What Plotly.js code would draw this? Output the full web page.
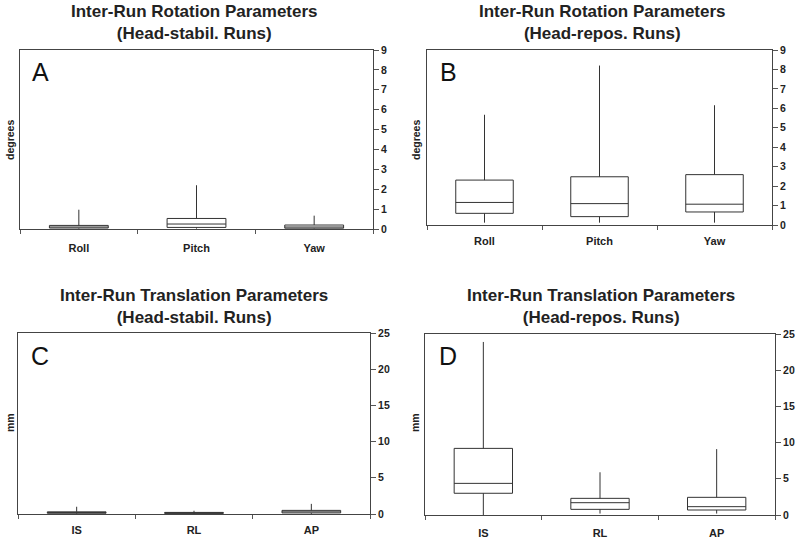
<!DOCTYPE html>
<html>
<head>
<meta charset="utf-8">
<script src="https://cdn.plot.ly/plotly-3.0.1.min.js"></script>
<style>
  html, body { margin: 0; padding: 0; background: #fff; }
  #chart { width: 800px; height: 539px; }
</style>
</head>
<body>
<div id="chart"></div>
<script>
// categories
const rotCats = ['Roll', 'Pitch', 'Yaw'];
const transCats = ['IS', 'RL', 'AP'];

// A: rotation, head-stabilised runs (degrees)
const aLow = [0.02, 0.02, 0.02];
const aQ1 = [0.05, 0.08, 0.04];
const aMed = [0.1, 0.25, 0.1];
const aQ3 = [0.18, 0.53, 0.2];
const aHigh = [0.97, 2.2, 0.67];

// B: rotation, head-repositioned runs (degrees)
const bLow = [0.12, 0.12, 0.12];
const bQ1 = [0.6, 0.43, 0.67];
const bMed = [1.16, 1.1, 1.07];
const bQ3 = [2.31, 2.48, 2.59];
const bHigh = [5.67, 8.2, 6.16];

// C: translation, head-stabilised runs (mm)
const cLow = [0.02, 0.02, 0.02];
const cQ1 = [0.1, 0.08, 0.15];
const cMed = [0.2, 0.15, 0.3];
const cQ3 = [0.3, 0.22, 0.5];
const cHigh = [1.0, 0.45, 1.4];

// D: translation, head-repositioned runs (mm)
const dLow = [0, 0.2, 0.2];
const dQ1 = [3.0, 0.78, 0.69];
const dMed = [4.37, 1.7, 1.15];
const dQ3 = [9.2, 2.3, 2.44];
const dHigh = [23.9, 5.9, 9.1];

const W = 800, H = 539;
const boldFont = 'Liberation Sans, Arial, sans-serif';

function makeBox(cats, low, q1, med, q3, high, xa, ya) {
  return {
    type: 'box',
    x: cats,
    lowerfence: low,
    q1: q1,
    median: med,
    q3: q3,
    upperfence: high,
    width: 0.5,
    whiskerwidth: 0,
    boxpoints: false,
    fillcolor: '#ffffff',
    line: { color: '#333333', width: 1 },
    xaxis: xa,
    yaxis: ya,
    hoverinfo: 'skip',
    showlegend: false
  };
}

const data = [
  makeBox(rotCats, aLow, aQ1, aMed, aQ3, aHigh, 'x', 'y'),
  makeBox(rotCats, bLow, bQ1, bMed, bQ3, bHigh, 'x2', 'y2'),
  makeBox(transCats, cLow, cQ1, cMed, cQ3, cHigh, 'x3', 'y3'),
  makeBox(transCats, dLow, dQ1, dMed, dQ3, dHigh, 'x4', 'y4')
];

// pixel boxes of each panel: [left, right, top, bottom, label gap]
const panels = [
  [20, 373, 50, 229, 9],
  [427, 772, 50, 225, 6],
  [18, 370, 333, 514, 6],
  [425, 775, 334, 515, 8]
];

function xAxis(p, anchor) {
  return {
    domain: [p[0] / W, p[1] / W],
    anchor: anchor,
    type: 'category',
    range: [-0.5, 2.5],
    tickson: 'boundaries',
    ticks: 'outside',
    ticklen: 4,
    tickcolor: '#555',
    ticklabelstandoff: p[4],
    showline: true,
    linecolor: '#444',
    linewidth: 1,
    mirror: true,
    showgrid: false,
    zeroline: false,
    tickfont: { family: boldFont, size: 11, color: '#222', weight: 'bold' }
  };
}

function yAxis(p, anchor, max, step) {
  return {
    domain: [1 - p[3] / H, 1 - p[2] / H],
    anchor: anchor,
    side: 'right',
    range: [0, max],
    dtick: step,
    ticks: 'outside',
    ticklen: 5,
    tickcolor: '#555',
    showline: true,
    linecolor: '#444',
    linewidth: 1,
    mirror: true,
    showgrid: false,
    zeroline: false,
    tickfont: { family: boldFont, size: 10.5, color: '#222', weight: 'bold' }
  };
}

const titles = [
  ['Inter-Run Rotation Parameters<br>(Head-stabil. Runs)', 194, 22],
  ['Inter-Run Rotation Parameters<br>(Head-repos. Runs)', 602, 22],
  ['Inter-Run Translation Parameters<br>(Head-stabil. Runs)', 194, 306],
  ['Inter-Run Translation Parameters<br>(Head-repos. Runs)', 601, 306]
];
const letters = [['A', 40, 72], ['B', 448, 72], ['C', 40, 356], ['D', 448, 356]];
const units = [['degrees', 10, 140], ['degrees', 416, 140], ['mm', 10, 423], ['mm', 415, 423]];

const annotations = [];
titles.forEach(t => annotations.push({
  text: t[0], x: t[1] / W, y: 1 - t[2] / H, xref: 'paper', yref: 'paper',
  xanchor: 'center', yanchor: 'middle', showarrow: false,
  font: { family: boldFont, size: 17, color: '#222', weight: 'bold' }
}));
letters.forEach(t => annotations.push({
  text: t[0], x: t[1] / W, y: 1 - t[2] / H, xref: 'paper', yref: 'paper',
  xanchor: 'center', yanchor: 'middle', showarrow: false,
  font: { family: 'Liberation Sans, Arial, sans-serif', size: 25, color: '#111' }
}));
units.forEach(t => annotations.push({
  text: t[0], x: t[1] / W, y: 1 - t[2] / H, xref: 'paper', yref: 'paper',
  xanchor: 'center', yanchor: 'middle', showarrow: false, textangle: -90,
  font: { family: boldFont, size: 10.5, color: '#222', weight: 'bold' }
}));

const layout = {
  width: W,
  height: H,
  margin: { l: 0, r: 0, t: 0, b: 0 },
  paper_bgcolor: '#fff',
  plot_bgcolor: '#fff',
  showlegend: false,
  xaxis: xAxis(panels[0], 'y'),
  yaxis: yAxis(panels[0], 'x', 9, 1),
  xaxis2: xAxis(panels[1], 'y2'),
  yaxis2: yAxis(panels[1], 'x2', 9, 1),
  xaxis3: xAxis(panels[2], 'y3'),
  yaxis3: yAxis(panels[2], 'x3', 25, 5),
  xaxis4: xAxis(panels[3], 'y4'),
  yaxis4: yAxis(panels[3], 'x4', 25, 5),
  annotations: annotations
};

Plotly.newPlot('chart', data, layout, { staticPlot: true });
</script>
</body>
</html>
